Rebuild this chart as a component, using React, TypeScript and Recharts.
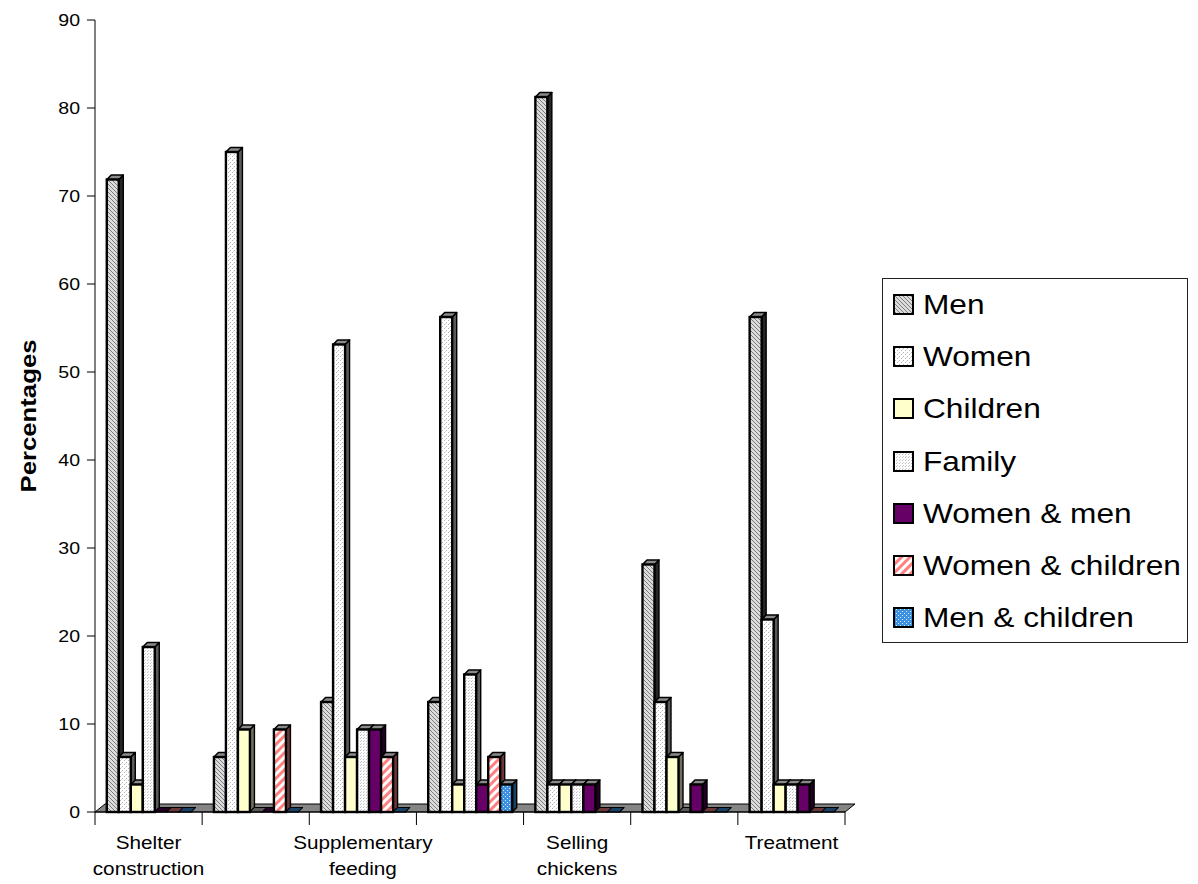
import { BarChart, Bar, XAxis, YAxis, Legend, ReferenceArea } from 'recharts';

const categories = ['Shelter construction', '', 'Supplementary feeding', '', 'Selling chickens', '', 'Treatment'];
const men = [71.875, 6.25, 12.5, 12.5, 81.25, 28.125, 56.25];
const women = [6.25, 75, 53.125, 56.25, 3.125, 12.5, 21.875];
const children = [3.125, 9.375, 6.25, 3.125, 3.125, 6.25, 3.125];
const family = [18.75, 0, 9.375, 15.625, 3.125, 0, 3.125];
const womenMen = [0, 0, 9.375, 3.125, 3.125, 3.125, 3.125];
const womenChildren = [0, 9.375, 6.25, 6.25, 0, 0, 0];
const menChildren = [0, 0, 0, 3.125, 0, 0, 0];
const yTicks = [0, 10, 20, 30, 40, 50, 60, 70, 80, 90];

const series = [
  { key: 'men', name: 'Men', fill: 'url(#patMen)', side: '#262626' },
  { key: 'women', name: 'Women', fill: 'url(#patWomen)', side: '#5a5a5a' },
  { key: 'children', name: 'Children', fill: '#ffffcc', side: '#70705a' },
  { key: 'family', name: 'Family', fill: 'url(#patFamily)', side: '#5a5a5a' },
  { key: 'womenMen', name: 'Women & men', fill: '#660066', side: '#220022' },
  { key: 'womenChildren', name: 'Women & children', fill: 'url(#patWC)', side: '#6a3838' },
  { key: 'menChildren', name: 'Men & children', fill: 'url(#patMC)', side: '#1a4066' },
];

const data = categories.map((name, i) => ({
  id: i,
  name,
  men: men[i],
  women: women[i],
  children: children[i],
  family: family[i],
  womenMen: womenMen[i],
  womenChildren: womenChildren[i],
  menChildren: menChildren[i],
}));

const FONT = '"Liberation Sans", Arial, sans-serif';
const DEPTH = 4.5;

function Box3D(props: any) {
  const { x, y, width, height, fill, side } = props;
  if (x == null || y == null) return null;
  const d = DEPTH;
  const top = `${x},${y} ${x + d},${y - d} ${x + width + d},${y - d} ${x + width},${y}`;
  const right = `${x + width},${y} ${x + width + d},${y - d} ${x + width + d},${y + height - d} ${x + width},${y + height}`;
  return (
    <g>
      <polygon points={right} fill={side} stroke="#000" strokeWidth={1.4} strokeLinejoin="round" />
      <polygon
        points={top}
        fill={height > 0 ? '#8a8a8a' : side}
        stroke="#000"
        strokeWidth={height > 0 ? 1.6 : 1}
        strokeLinejoin="round"
      />
      {height > 0 && (
        <rect x={x} y={y} width={width} height={height} fill={fill} stroke="#000" strokeWidth={2.4} />
      )}
    </g>
  );
}

function Floor(props: any) {
  const { x, y, width, height } = props;
  const base = y + height;
  const pts = `${x},${base} ${x + width},${base} ${x + width + 10},${base - 8} ${x + 10},${base - 8}`;
  return <polygon points={pts} fill="#858585" stroke="#000" strokeWidth={1} />;
}

function CategoryTick(props: any) {
  const { x, y, payload, index, visibleTicksCount } = props;
  const half = payload.offset || 750 / categories.length / 2;
  const words = (categories[payload.value] || '').split(' ').filter(Boolean);
  return (
    <g>
      <line x1={x - half} y1={y} x2={x - half} y2={y + 13} stroke="#000" />
      {index === visibleTicksCount - 1 && (
        <line x1={x + half} y1={y} x2={x + half} y2={y + 13} stroke="#000" />
      )}
      {words.map((w: string, i: number) => (
        <text
          key={i}
          transform={`translate(${x},${y + 37 + i * 26}) scale(1.12,1)`}
          textAnchor="middle"
          fontSize={18.5}
          fontFamily={FONT}
          fill="#000"
        >
          {w}
        </text>
      ))}
    </g>
  );
}

function ValueTick(props: any) {
  const { x, y, payload } = props;
  return (
    <text
      transform={`translate(${x},${y}) scale(1.15,1)`}
      textAnchor="end"
      dominantBaseline="central"
      fontSize={17}
      fontFamily={FONT}
      fill="#000"
    >
      {payload.value}
    </text>
  );
}

function renderLegend() {
  return (
    <div
      style={{
        width: 304,
        height: 363,
        border: '1px solid #222',
        background: '#fff',
        fontFamily: FONT,
        boxSizing: 'content-box',
      }}
    >
      {series.map((s) => (
        <div key={s.key} style={{ height: 52.2, display: 'flex', alignItems: 'center' }}>
          <svg width={22} height={22} style={{ marginLeft: 10, marginRight: 8, flex: 'none' }}>
            <rect x={1} y={1} width={19} height={19} fill={s.fill} stroke="#000" strokeWidth={2} />
          </svg>
          <span
            style={{
              display: 'inline-block',
              fontSize: 27.5,
              color: '#000',
              whiteSpace: 'nowrap',
              transform: 'scaleX(1.15)',
              transformOrigin: 'left center',
            }}
          >
            {s.name}
          </span>
        </div>
      ))}
    </div>
  );
}

export default function App() {
  return (
    <div style={{ position: 'absolute', left: 0, top: 0, width: 1198, height: 884, background: '#fff' }}>
      <BarChart
        width={1198}
        height={884}
        data={data}
        margin={{ top: 20, right: 353, left: 0, bottom: 0 }}
        barCategoryGap="11%"
        barGap={0}
      >
        <defs>
          <pattern id="patMen" width={4} height={4} patternUnits="userSpaceOnUse">
            <rect width={4} height={4} fill="#dcdcdc" />
            <path d="M-1,-1 L5,5 M-1,3 L1,5 M3,-1 L5,1" stroke="#7c7c7c" strokeWidth={1} />
          </pattern>
          <pattern id="patWomen" width={4} height={4} patternUnits="userSpaceOnUse">
            <rect width={4} height={4} fill="#ffffff" />
            <rect x={0} y={0} width={1} height={1} fill="#b4b4b4" />
            <rect x={2} y={2} width={1} height={1} fill="#b4b4b4" />
            <rect x={1} y={3} width={1} height={1} fill="#dddddd" />
          </pattern>
          <pattern id="patFamily" width={3} height={3} patternUnits="userSpaceOnUse">
            <rect width={3} height={3} fill="#ffffff" />
            <rect x={0} y={0} width={1} height={1} fill="#bcbcbc" />
            <rect x={1} y={2} width={1} height={1} fill="#d0d0d0" />
          </pattern>
          <pattern id="patWC" width={6} height={6} patternUnits="userSpaceOnUse" patternTransform="rotate(45)">
            <rect width={6} height={6} fill="#ffffff" />
            <rect width={3} height={6} fill="#ff8080" />
          </pattern>
          <pattern id="patMC" width={4} height={4} patternUnits="userSpaceOnUse">
            <rect width={4} height={4} fill="#3d8fe0" />
            <rect x={1} y={0} width={1} height={1} fill="#d8ecff" />
            <rect x={3} y={2} width={1} height={1} fill="#d8ecff" />
          </pattern>
        </defs>
        <XAxis
          dataKey="id"
          type="category"
          interval={0}
          height={72}
          tickSize={0}
          tickMargin={0}
          tickLine={false}
          axisLine={{ stroke: '#000' }}
          tick={<CategoryTick />}
        />
        <YAxis
          domain={[0, 90]}
          ticks={yTicks}
          width={95}
          tickSize={8}
          tickMargin={7}
          axisLine={{ stroke: '#000' }}
          tickLine={{ stroke: '#000' }}
          tick={<ValueTick />}
          label={{
            content: (p: any) => {
              const vb = p.viewBox || { x: 0, y: 20, height: 792 };
              const cy = vb.y + vb.height / 2;
              return (
                <text
                  transform={`translate(28,${cy}) rotate(-90) scale(1.17,1)`}
                  textAnchor="middle"
                  dominantBaseline="central"
                  fontSize={22}
                  fontWeight="bold"
                  fontFamily={FONT}
                  fill="#000"
                >
                  Percentages
                </text>
              );
            },
          }}
        />
        <ReferenceArea x1={0} x2={6} y1={0} y2={1} shape={<Floor />} />
        <Legend
          layout="vertical"
          align="center"
          verticalAlign="middle"
          content={renderLegend}
          wrapperStyle={{ left: 882, top: 278, width: 306, height: 365 }}
        />
        {series.map((s) => (
          <Bar
            key={s.key}
            dataKey={s.key}
            name={s.name}
            fill={s.fill}
            isAnimationActive={false}
            shape={(p: any) => <Box3D {...p} side={s.side} />}
          />
        ))}
      </BarChart>
    </div>
  );
}
